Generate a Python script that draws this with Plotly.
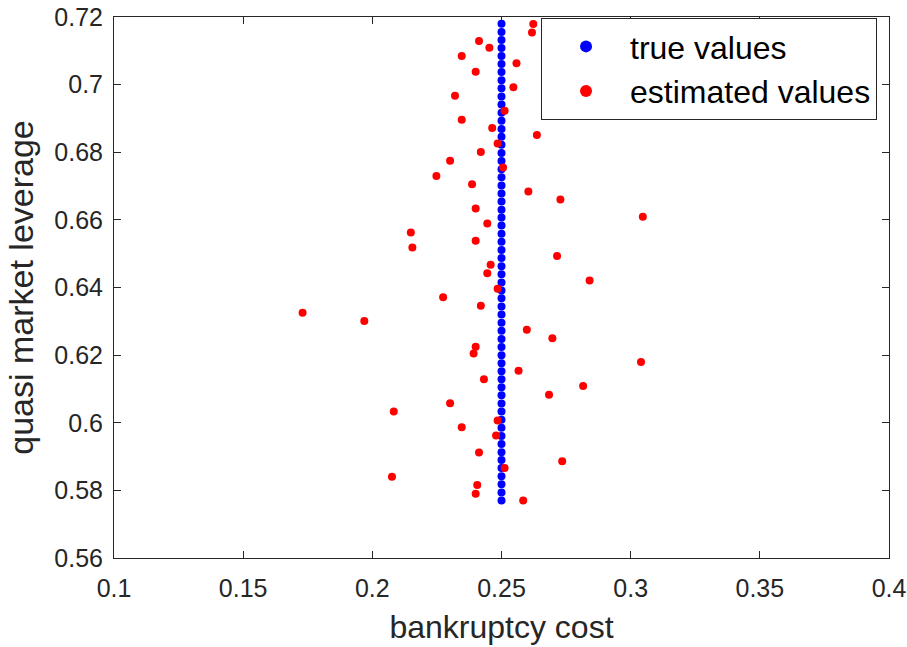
import plotly.graph_objects as go

# True parameter values: bankruptcy cost fixed at 0.25 across the leverage grid
true_cost = [0.25] * 60
true_leverage = [
    0.5770, 0.5794, 0.5818, 0.5842, 0.5866, 0.5890, 0.5913, 0.5937, 0.5961, 0.5985,
    0.6009, 0.6033, 0.6057, 0.6081, 0.6105, 0.6129, 0.6152, 0.6176, 0.6200, 0.6224,
    0.6248, 0.6272, 0.6296, 0.6320, 0.6344, 0.6368, 0.6391, 0.6415, 0.6439, 0.6463,
    0.6487, 0.6511, 0.6535, 0.6559, 0.6583, 0.6607, 0.6630, 0.6654, 0.6678, 0.6702,
    0.6726, 0.6750, 0.6774, 0.6798, 0.6822, 0.6846, 0.6869, 0.6893, 0.6917, 0.6941,
    0.6965, 0.6989, 0.7013, 0.7037, 0.7061, 0.7085, 0.7108, 0.7132, 0.7156, 0.7180,
]

# Estimated values
est_cost = [
    0.2623, 0.2618, 0.2413, 0.2453, 0.2346, 0.2558, 0.2400, 0.2546, 0.2320, 0.2512,
    0.2346, 0.2464, 0.2637, 0.2485, 0.2420, 0.2301, 0.2506, 0.2248, 0.2386, 0.2604,
    0.2728, 0.2400, 0.3047, 0.2445, 0.2149, 0.2400, 0.2155, 0.2715, 0.2458, 0.2445,
    0.2841, 0.2485, 0.2274, 0.2420, 0.1730, 0.1969, 0.2598, 0.2697, 0.2400, 0.2392,
    0.3040, 0.2566, 0.2432, 0.2816, 0.2684, 0.2301, 0.2083, 0.2485, 0.2346, 0.2479,
    0.2413, 0.2512, 0.2735, 0.2076, 0.2406, 0.2400, 0.2584,
]
est_leverage = [
    0.7179, 0.7154, 0.7129, 0.7109, 0.7085, 0.7063, 0.7038, 0.6992, 0.6967, 0.6923,
    0.6896, 0.6872, 0.6851, 0.6826, 0.6801, 0.6775, 0.6755, 0.6730, 0.6705, 0.6684,
    0.6660, 0.6634, 0.6609, 0.6589, 0.6563, 0.6538, 0.6518, 0.6493, 0.6467, 0.6442,
    0.6421, 0.6396, 0.6371, 0.6346, 0.6325, 0.6301, 0.6275, 0.6250, 0.6225, 0.6205,
    0.6180, 0.6154, 0.6129, 0.6109, 0.6083, 0.6058, 0.6033, 0.6007, 0.5987, 0.5962,
    0.5912, 0.5866, 0.5886, 0.5840, 0.5816, 0.5790, 0.5770,
]

x_ticks = [0.1, 0.15, 0.2, 0.25, 0.3, 0.35, 0.4]
x_tick_text = ["0.1", "0.15", "0.2", "0.25", "0.3", "0.35", "0.4"]
y_ticks = [0.56, 0.58, 0.6, 0.62, 0.64, 0.66, 0.68, 0.7, 0.72]
y_tick_text = ["0.56", "0.58", "0.6", "0.62", "0.64", "0.66", "0.68", "0.7", "0.72"]

FONT = "Liberation Sans, Arial, sans-serif"
AXIS_COLOR = "#262626"

fig = go.Figure()
fig.add_trace(go.Scatter(
    x=true_cost, y=true_leverage, mode="markers", name="true values",
    marker=dict(color="#0000ff", size=8, line=dict(width=0)),
))
fig.add_trace(go.Scatter(
    x=est_cost, y=est_leverage, mode="markers", name="estimated values",
    marker=dict(color="#ff0000", size=8, line=dict(width=0)),
))

axis_common = dict(
    showline=True, linecolor=AXIS_COLOR, linewidth=1, mirror="ticks",
    ticks="inside", ticklen=7, tickcolor=AXIS_COLOR, tickwidth=1,
    showgrid=False, zeroline=False, automargin=False,
    tickfont=dict(family=FONT, size=25, color="#262626"),
)

fig.update_xaxes(
    range=[0.1, 0.4], tickvals=x_ticks, ticktext=x_tick_text,
    ticklabelstandoff=8,
    title=dict(text="bankruptcy cost", font=dict(family=FONT, size=32, color="#262626"), standoff=14),
    **axis_common,
)
fig.update_yaxes(
    range=[0.56, 0.72], tickvals=y_ticks, ticktext=y_tick_text,
    ticklabelstandoff=5,
    title=dict(text="quasi market leverage", font=dict(family=FONT, size=34, color="#262626"), standoff=10),
    **axis_common,
)

fig.update_layout(
    width=907, height=647,
    margin=dict(l=114, r=18, t=17, b=89),
    paper_bgcolor="white", plot_bgcolor="white",
    showlegend=True,
    legend=dict(
        x=0.551, y=0.998, xanchor="left", yanchor="top",
        bgcolor="white", bordercolor=AXIS_COLOR, borderwidth=1,
        font=dict(family=FONT, size=32, color="black"),
        itemsizing="constant", itemwidth=78,
    ),
)

fig.write_html("out.html")
